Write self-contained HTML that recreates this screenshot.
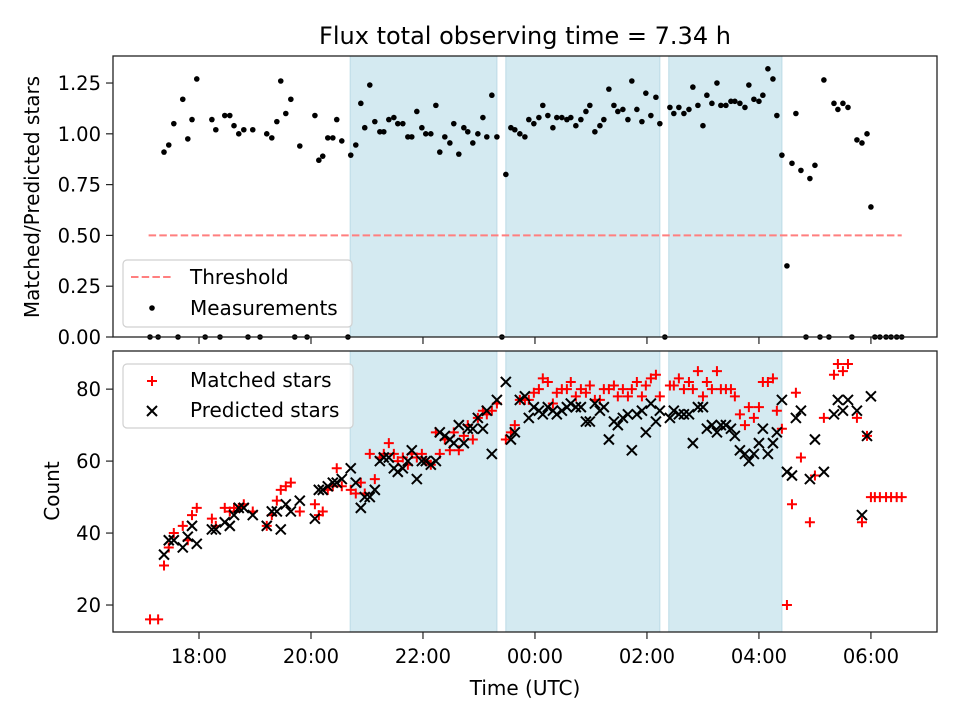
<!DOCTYPE html>
<html><head><meta charset="utf-8"><style>
body{margin:0;background:#fff;}
svg{display:block;font-family:"DejaVu Sans","Liberation Sans",sans-serif;}
</style></head><body>
<svg id="chart" width="960" height="720" viewBox="0 0 960 720" xmlns="http://www.w3.org/2000/svg">
<rect width="960" height="720" fill="#fff"/>
<text x="525" y="44" font-size="24" text-anchor="middle">Flux total observing time = 7.34 h</text>
<g id="top-panel"></g><g id="bottom-panel"></g>
<text x="525" y="695" font-size="20" text-anchor="middle">Time (UTC)</text>
<text transform="translate(39,197) rotate(-90)" font-size="20" text-anchor="middle">Matched/Predicted stars</text>
<text transform="translate(59,491) rotate(-90)" font-size="20" text-anchor="middle">Count</text>
</svg>
<script>
const spans=[[20.70,23.32],[23.48,26.23],[26.39,28.41]];
const xTicks=[18,20,22,24,26,28,30];
const xTickLabels=["18:00","20:00","22:00","00:00","02:00","04:00","06:00"];
const topTicks=[0,0.25,0.5,0.75,1.0,1.25];
const topTickLabels=["0.00","0.25","0.50","0.75","1.00","1.25"];
const botTicks=[20,40,60,80];
const botTickLabels=["20","40","60","80"];
const threshold=0.5;
const threshRange=[17.1,30.55];
const ratioTimes=[17.125,17.27,17.375,17.46,17.55,17.625,17.71,17.80,17.875,17.96,18.11,18.23,18.30,18.375,18.46,18.55,18.625,18.71,18.80,18.875,18.96,19.09,19.21,19.30,19.39,19.46,19.55,19.64,19.71,19.80,19.93,20.07,20.14,20.21,20.30,20.39,20.46,20.55,20.66,20.71,20.80,20.89,20.96,21.05,21.14,21.23,21.30,21.39,21.48,21.55,21.64,21.73,21.80,21.89,21.98,22.05,22.14,22.23,22.30,22.39,22.48,22.55,22.64,22.73,22.80,22.89,22.98,23.07,23.14,23.23,23.32,23.41,23.48,23.57,23.64,23.73,23.82,23.89,23.98,24.07,24.14,24.23,24.32,24.39,24.48,24.57,24.64,24.73,24.82,24.91,24.98,25.07,25.16,25.23,25.32,25.41,25.48,25.57,25.66,25.73,25.82,25.91,25.98,26.07,26.16,26.23,26.32,26.41,26.48,26.57,26.66,26.75,26.82,26.91,27.00,27.07,27.16,27.25,27.32,27.41,27.50,27.57,27.66,27.75,27.82,27.91,28.00,28.07,28.16,28.25,28.32,28.41,28.50,28.59,28.66,28.75,28.84,28.91,29.00,29.09,29.16,29.25,29.34,29.41,29.50,29.59,29.66,29.75,29.84,29.93,30.00,30.07,30.16,30.27,30.36,30.46,30.55];
const ratios=[0,0,0.91,0.945,1.05,0,1.17,0.975,1.07,1.27,0,1.07,1.02,0,1.09,1.09,1.04,1.00,1.02,0,1.02,0,1.00,0.98,1.06,1.26,1.10,1.17,0,0.94,0,1.09,0.87,0.89,0.98,0.98,1.07,0.965,0,0.895,0.945,1.15,1.03,1.24,1.06,1.01,1.01,1.07,1.08,1.05,1.05,0.985,0.985,1.11,1.03,1.00,1.00,1.14,0.91,0.985,0.955,1.05,0.90,1.03,1.01,0.955,1.00,1.08,0.985,1.19,0.985,0,0.80,1.03,1.02,1.00,0.985,1.07,1.05,1.08,1.14,1.09,1.03,1.08,1.08,1.07,1.08,1.04,1.07,1.11,1.14,1.01,1.04,1.07,1.22,1.14,1.11,1.12,1.07,1.26,1.12,1.06,1.20,1.09,1.18,1.05,0,1.13,1.10,1.13,1.10,1.12,1.23,1.14,1.04,1.19,1.15,1.25,1.14,1.14,1.16,1.16,1.15,1.13,1.24,1.17,1.16,1.19,1.32,1.27,1.09,0.895,0.35,0.855,1.10,0.82,0,0.78,0.845,0,1.265,0,1.15,1.12,1.15,1.13,0,0.97,0.955,1.00,0.64,0,0,0,0,0,0];
const countTimes=[17.125,17.27,17.375,17.46,17.55,17.71,17.80,17.875,17.96,18.23,18.30,18.46,18.55,18.625,18.71,18.80,18.96,19.21,19.30,19.39,19.46,19.55,19.64,19.80,20.07,20.14,20.21,20.30,20.39,20.46,20.55,20.71,20.80,20.89,20.96,21.05,21.14,21.23,21.30,21.39,21.48,21.55,21.64,21.73,21.80,21.89,21.98,22.05,22.14,22.23,22.30,22.39,22.48,22.55,22.64,22.73,22.80,22.89,22.98,23.07,23.14,23.23,23.32,23.48,23.57,23.64,23.73,23.82,23.89,23.98,24.07,24.14,24.23,24.32,24.39,24.48,24.57,24.64,24.73,24.82,24.91,24.98,25.07,25.16,25.23,25.32,25.41,25.48,25.57,25.66,25.73,25.82,25.91,25.98,26.07,26.16,26.23,26.41,26.48,26.57,26.66,26.75,26.82,26.91,27.00,27.07,27.16,27.25,27.32,27.41,27.50,27.57,27.66,27.75,27.82,27.91,28.00,28.07,28.16,28.25,28.32,28.41,28.50,28.59,28.66,28.75,28.91,29.00,29.16,29.34,29.41,29.50,29.59,29.75,29.84,29.93,30.00,30.07,30.16,30.27,30.36,30.46,30.55];
const matched=[16,16,31,36,40,42,38,45,47,44,42,47,46,47,47,48,46,42,45,49,52,53,54,46,48,45,46,52,53,58,53,52,51,54,51,62,55,61,62,65,62,60,61,59,62,61,62,60,59,68,62,66,63,68,63,67,70,66,72,74,73,74,76,66,68,70,77,77,77,79,80,83,82,76,79,80,80,82,78,80,79,81,77,77,80,80,81,78,80,78,80,82,78,81,83,84,78,81,81,83,80,82,80,85,78,82,80,85,80,80,80,78,73,70,75,72,75,82,82,83,74,69,20,48,79,61,43,56,72,84,87,85,87,72,43,67,50,50,50,50,50,50,50];
const predicted=[null,null,34,38,38,36,39,42,37,41,41,43,42,45,47,47,45,42,46,46,41,48,46,49,44,52,52,53,54,54,55,58,54,47,50,50,52,60,61,61,58,57,58,60,63,55,60,60,59,60,68,67,66,65,70,65,69,69,72,69,74,62,77,82,66,68,77,78,72,75,74,73,75,74,73,74,75,76,75,75,71,71,76,74,75,66,71,70,72,73,63,73,74,68,76,71,74,72,74,73,73,73,65,75,75,69,70,68,70,70,69,67,63,62,60,62,65,69,62,65,68,77,57,56,72,74,55,66,57,73,77,74,77,74,45,67,78,null,null,null,null,null,null];

const NS="http://www.w3.org/2000/svg";
const X0=113,X1=937,H0=16.464,H1=31.18;
const xs=h=>X0+(h-H0)/(H1-H0)*(X1-X0);
const TY0=56,TY1=337,ys1=v=>TY1-(v-0)/(1.383-0)*(TY1-TY0);
const BY0=351,BY1=632,ys2=v=>BY1-(v-12.5)/(90.6-12.5)*(BY1-BY0);
function mk(p,tag,at){const e=document.createElementNS(NS,tag);for(const k in at)e.setAttribute(k,at[k]);p.appendChild(e);return e;}
const topG=document.getElementById('top-panel'),botG=document.getElementById('bottom-panel');

function panel(g,Y0,Y1,ys,ticks,labels,showX,nm){
  const bg=mk(g,'rect',{x:X0,y:Y0,width:X1-X0,height:Y1-Y0,fill:'#fff'});
  
  
  spans.forEach((s,i)=>{
    const r=mk(g,'rect',{x:xs(s[0]),y:Y0,width:xs(s[1])-xs(s[0]),height:Y1-Y0,fill:'#d4eaf1',stroke:'#bcdbe6','stroke-width':1});
    
    
  });
  ticks.forEach((t,i)=>{
    const y=ys(t);
    mk(g,'line',{x1:X0-7,x2:X0,y1:y,y2:y,stroke:'#222','stroke-width':1.2});
    const tx=mk(g,'text',{x:X0-12,y:y+7,'font-size':19.5,'text-anchor':'end'});
    tx.textContent=labels[i];
    
    
  });
  xTicks.forEach((t,i)=>{
    const x=xs(t);
    mk(g,'line',{x1:x,x2:x,y1:Y1,y2:Y1+7,stroke:'#222','stroke-width':1.2});
    if(showX){const tx=mk(g,'text',{x:x,y:663,'font-size':19.5,'text-anchor':'middle'});
      tx.textContent=xTickLabels[i];
      
      }
  });
}
panel(topG,TY0,TY1,ys1,topTicks,topTickLabels,false,'top');
panel(botG,BY0,BY1,ys2,botTicks,botTickLabels,true,'bottom');

const th=mk(topG,'line',{x1:xs(threshRange[0]),x2:xs(threshRange[1]),y1:ys1(threshold),y2:ys1(threshold),stroke:'#ff7f7f','stroke-width':2,'stroke-dasharray':'7.5,3.2'});


ratioTimes.forEach((t,i)=>{
  const c=mk(topG,'circle',{cx:xs(t),cy:ys1(ratios[i]),r:2.8,fill:'#000'});
  
  
});
function plus(g,x,y,name){const p=mk(g,'path',{d:`M${x-5},${y}H${x+5}M${x},${y-5}V${y+5}`,stroke:'#f00','stroke-width':2,fill:'none'});
  
  }
function cross(g,x,y,name){const p=mk(g,'path',{d:`M${x-5},${y-5}L${x+5},${y+5}M${x-5},${y+5}L${x+5},${y-5}`,stroke:'#000','stroke-width':2,fill:'none'});
  
  }
countTimes.forEach((t,i)=>{ if(matched[i]!=null) plus(botG,xs(t),ys2(matched[i]),'matched-star-point'); });
countTimes.forEach((t,i)=>{ if(predicted[i]!=null) cross(botG,xs(t),ys2(predicted[i]),'predicted-star-point'); });

[[TY0,TY1,topG],[BY0,BY1,botG]].forEach(([a,b,g])=>{mk(g,'rect',{x:X0,y:a,width:X1-X0,height:b-a,fill:'none',stroke:'#222','stroke-width':1.3});});

function legend(g,x,y,w,h,name){const r=mk(g,'rect',{x:x,y:y,width:w,height:h,rx:4,fill:'#fff','fill-opacity':0.8,stroke:'#d0d0d0','stroke-width':1.2});
  
  }
legend(topG,123,260,229,67,'top-legend');
mk(topG,'line',{x1:131,x2:173,y1:277,y2:277,stroke:'#ff7f7f','stroke-width':2,'stroke-dasharray':'7.5,3.2'});
let t1=mk(topG,'text',{x:190,y:284,'font-size':20});t1.textContent='Threshold';


mk(topG,'circle',{cx:152,cy:308,r:2.8,fill:'#000'});
let t2=mk(topG,'text',{x:190,y:315,'font-size':20});t2.textContent='Measurements';


legend(botG,123,364,230,64,'bottom-legend');
plus(botG,152,381,'legend-matched-marker');
let t3=mk(botG,'text',{x:190,y:387,'font-size':20});t3.textContent='Matched stars';


cross(botG,152,411,'legend-predicted-marker');
let t4=mk(botG,'text',{x:190,y:417,'font-size':20});t4.textContent='Predicted stars';


</script>
</body></html>
